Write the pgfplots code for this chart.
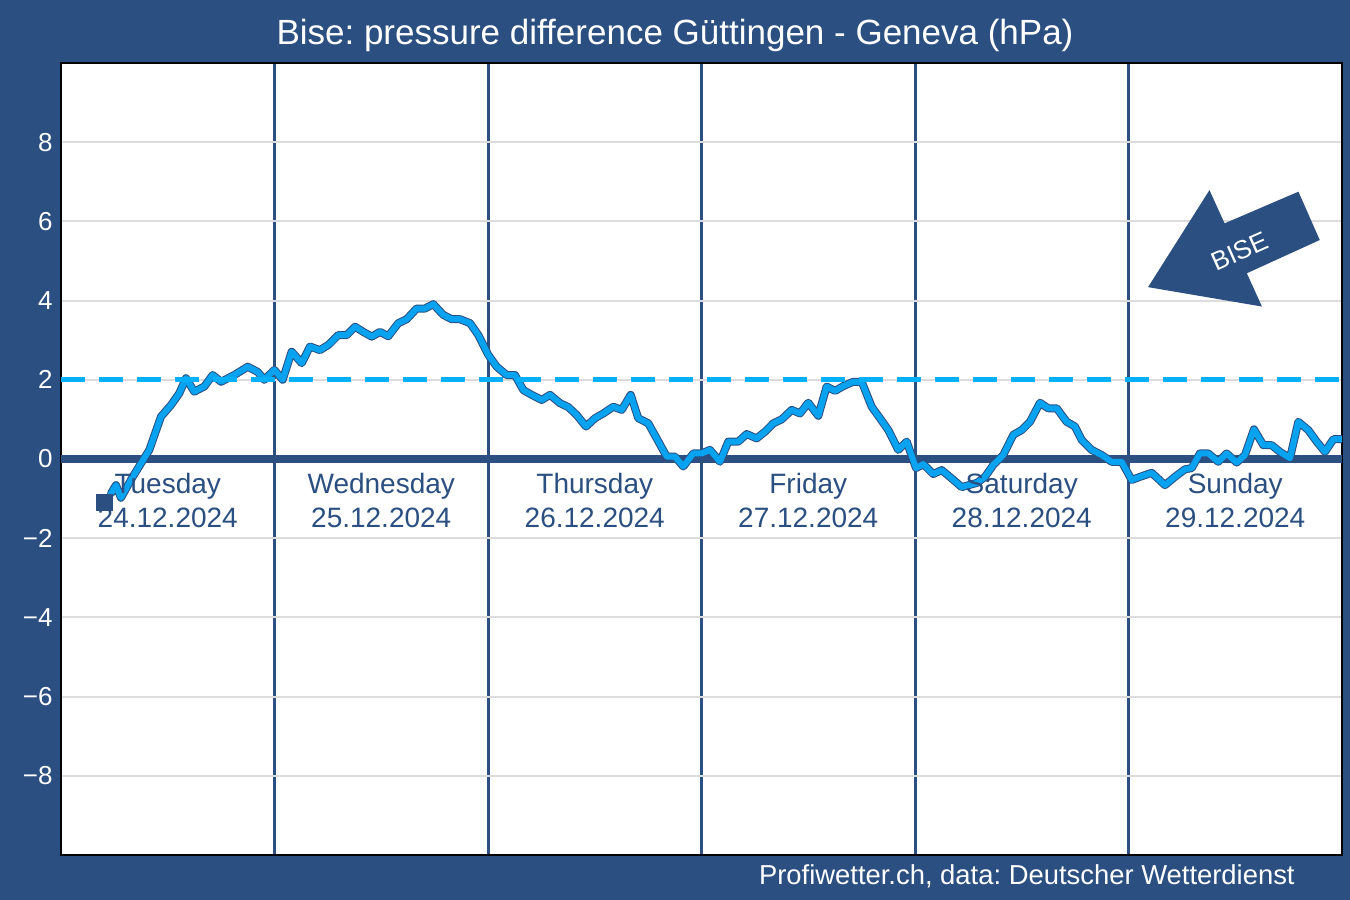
\documentclass[border=0pt]{standalone}
\usepackage{fontspec}
\setmainfont{Liberation Sans}
\usepackage{pgfplots}
\usepackage{pgfplotstable}
\pgfplotsset{compat=1.18}
\frenchspacing
\definecolor{bg}{RGB}{42,79,128}
\definecolor{lineblue}{RGB}{8,163,240}
\definecolor{dashblue}{RGB}{0,176,255}
\definecolor{gridgray}{RGB}{220,220,220}

\pgfplotstableread{
h v
5.62 -0.87
6.18 -0.66
6.74 -0.98
8.06 -0.45
9.93 0.23
11.24 1.07
12.36 1.36
13.30 1.66
14.05 2.04
14.98 1.70
16.11 1.83
17.05 2.12
17.99 1.95
19.48 2.12
20.99 2.33
22.11 2.20
22.85 2.00
23.98 2.25
24.92 2.00
25.93 2.71
27.06 2.42
27.99 2.84
29.11 2.75
30.05 2.88
31.17 3.13
32.12 3.13
33.05 3.34
33.98 3.21
34.93 3.09
35.86 3.21
36.79 3.10
37.92 3.43
38.86 3.53
39.98 3.80
40.92 3.80
41.85 3.91
42.97 3.64
43.92 3.53
44.85 3.53
45.98 3.43
46.91 3.13
48.03 2.63
48.98 2.33
50.10 2.12
51.03 2.12
51.97 1.74
52.91 1.62
54.04 1.49
54.97 1.62
56.09 1.41
57.03 1.31
57.97 1.11
59.02 0.82
60.03 1.03
60.96 1.15
62.08 1.32
63.03 1.24
64.04 1.62
64.89 1.03
66.02 0.90
66.96 0.52
68.09 0.06
69.02 0.06
69.95 -0.19
71.08 0.14
72.02 0.14
72.95 0.23
74.08 -0.07
75.01 0.44
76.14 0.44
77.08 0.63
78.20 0.52
79.14 0.69
80.07 0.90
81.01 1.00
82.14 1.24
83.07 1.15
84.00 1.42
85.13 1.09
86.07 1.83
87.01 1.72
87.94 1.84
89.06 1.95
90.01 1.95
91.13 1.32
92.06 1.03
93.00 0.73
94.12 0.23
95.07 0.44
96.11 -0.23
96.93 -0.13
98.05 -0.38
99.00 -0.28
100.12 -0.49
101.25 -0.71
103.00 -0.60
103.87 -0.45
104.80 -0.15
105.92 0.10
107.05 0.61
107.99 0.73
108.93 0.94
110.05 1.42
110.98 1.28
111.93 1.28
113.05 0.94
113.98 0.82
114.74 0.48
115.86 0.23
116.98 0.10
118.11 -0.07
119.23 -0.07
120.36 -0.53
121.29 -0.45
122.61 -0.35
124.10 -0.66
125.22 -0.45
126.35 -0.26
127.10 -0.23
128.03 0.14
128.97 0.14
130.09 -0.07
131.03 0.14
132.16 -0.09
133.09 0.10
134.10 0.75
135.15 0.35
136.09 0.35
137.03 0.18
138.15 0.02
139.09 0.94
140.21 0.73
141.15 0.44
142.09 0.18
143.03 0.50
143.97 0.50
}\bisedata

\begin{document}
\begin{tikzpicture}[day/.style={bg, anchor=base, inner sep=0pt, font=\fontsize{14}{16}\selectfont}]
\fill[bg] (0pt,0pt) rectangle (675pt,450pt);
\node[white, font=\fontsize{17.5}{20}\selectfont, anchor=base, inner sep=0pt] at (337.5pt,427.5pt) {Bise: pressure difference Güttingen - Geneva (hPa)};
\node[white, font=\fontsize{13.7}{16}\selectfont, anchor=base east, inner sep=0pt] at (647.5pt,7.5pt) {Profiwetter.ch, data: Deutscher Wetterdienst};
\begin{axis}[
  at={(30.5pt,22.5pt)}, anchor=south west,
  scale only axis, width=640.5pt, height=396pt,
  xmin=0, xmax=144, ymin=-10, ymax=10,
  xtick={24,48,72,96,120}, xticklabels={},
  ytick={-8,-6,-4,-2,0,2,4,6,8},
  yticklabels={−8,−6,−4,−2,0,2,4,6,8},
  yticklabel style={white, font=\fontsize{13}{15}\selectfont, inner sep=0pt, xshift=-4pt},
  major tick length=0pt,
  ymajorgrids, xmajorgrids,
  y grid style={gridgray, line width=1pt},
  x grid style={bg, line width=1.5pt},
  axis background/.style={fill=white},
  axis line style={black, line width=1pt},
]
\addplot[bg, line width=4.2pt, forget plot] coordinates {(0,0) (144,0)};
\addplot[bg, line width=4pt, line join=round, line cap=round] table[x=h, y=v] {\bisedata};
\addplot[lineblue, line width=3pt, line join=round, line cap=round] table[x=h, y=v] {\bisedata};
\addplot[dashblue, line width=2.6pt, dash pattern=on 12pt off 7pt] coordinates {(0,2) (144,2)};
\addplot[only marks, mark=square*, mark size=4pt, bg] coordinates {(4.83,-1.09)};
\fill[bg] (axis cs:122.2,4.34) -- (axis cs:129.1,6.79) -- (axis cs:130.8,5.95) -- (axis cs:139.1,6.75) -- (axis cs:141.5,5.53) -- (axis cs:133.3,4.69) -- (axis cs:135.0,3.85) -- cycle;
\node[white, rotate=24, font=\fontsize{13}{15}\selectfont] at (axis cs:132.5,5.24) {BISE};
\node[day] at (axis cs:12,-0.88) {Tuesday};
\node[day] at (axis cs:12,-1.72) {24.12.2024};
\node[day] at (axis cs:36,-0.88) {Wednesday};
\node[day] at (axis cs:36,-1.72) {25.12.2024};
\node[day] at (axis cs:60,-0.88) {Thursday};
\node[day] at (axis cs:60,-1.72) {26.12.2024};
\node[day] at (axis cs:84,-0.88) {Friday};
\node[day] at (axis cs:84,-1.72) {27.12.2024};
\node[day] at (axis cs:108,-0.88) {Saturday};
\node[day] at (axis cs:108,-1.72) {28.12.2024};
\node[day] at (axis cs:132,-0.88) {Sunday};
\node[day] at (axis cs:132,-1.72) {29.12.2024};
\end{axis}
\end{tikzpicture}
\end{document}
